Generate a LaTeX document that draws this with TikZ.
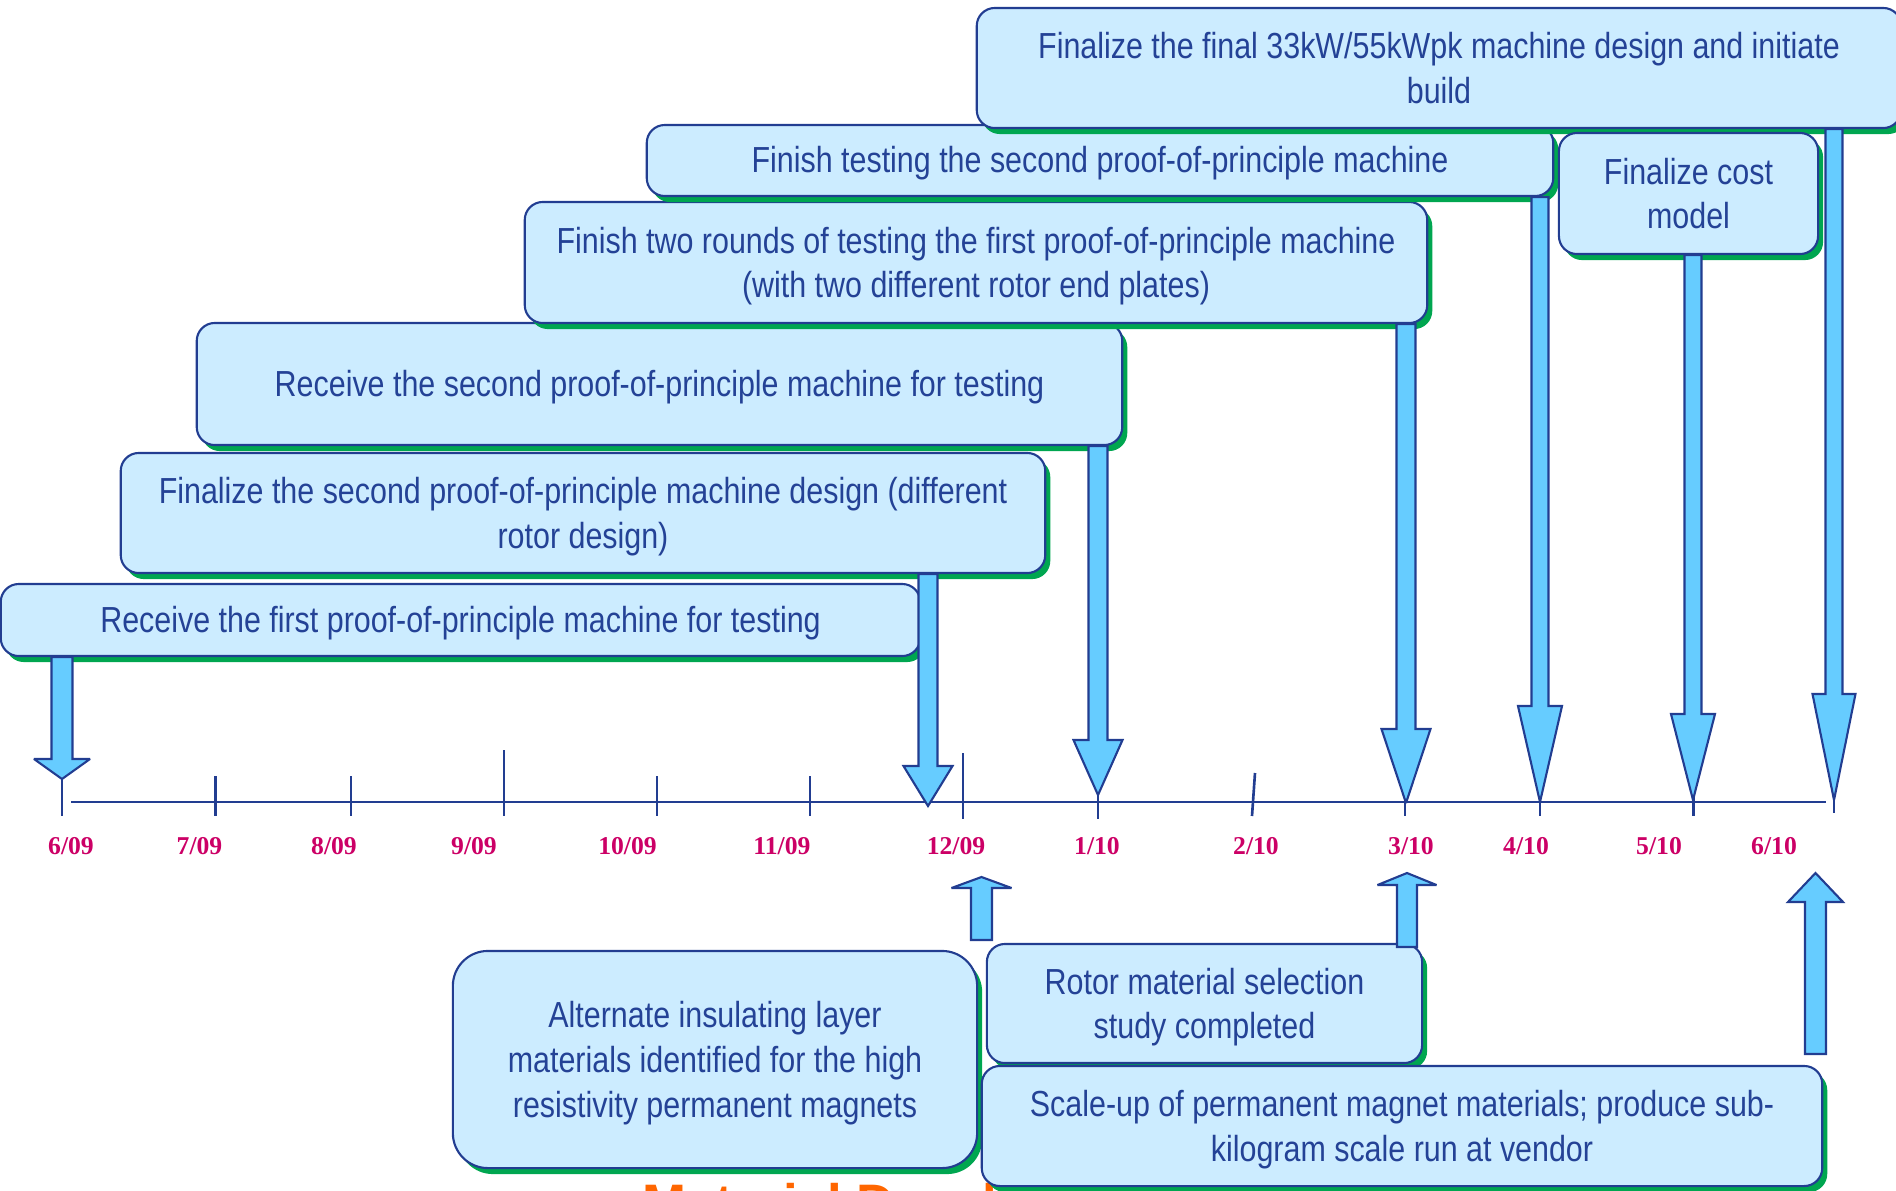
\documentclass[tikz,border=0pt]{standalone}
\usepackage{fontspec}
\setmainfont{Liberation Sans}[FakeStretch=0.84]
\newfontfamily\datefont{Liberation Serif}
\newfontfamily\titlefont{Liberation Sans}
\usepackage{tikz}
\usetikzlibrary{shapes,shadows,calc}

\definecolor{boxfill}{RGB}{204,236,255}
\definecolor{boxline}{RGB}{34,61,145}
\definecolor{boxtext}{RGB}{36,66,150}
\definecolor{shadowgreen}{RGB}{0,166,80}
\definecolor{arrowfill}{RGB}{102,204,255}
\definecolor{datemagenta}{RGB}{204,0,102}
\definecolor{titleorange}{RGB}{255,102,0}

\tikzset{
  msbox/.style={shape=rectangle,rounded corners=0.18cm,draw=boxline,fill=boxfill,line width=0.6pt,text=boxtext,align=center,inner sep=0pt,font=\fontsize{10.3}{12.7}\selectfont,execute at begin node={\rule{0pt}{9.2pt}},drop shadow={shadow xshift=0.05cm,shadow yshift=-0.06cm,fill=shadowgreen,opacity=1}},
  lowtext/.style={text depth=0pt},
  fatarrow/.style={draw=boxline,fill=arrowfill,line width=0.6pt,line join=miter,miter limit=3},
  axisline/.style={draw=boxline,line width=0.75pt},
  datelabel/.style={text=datemagenta,inner sep=0pt,font=\datefont\bfseries\fontsize{7.3}{9}\selectfont}
}

\newcommand{\blockarrow}[5]{%
  \path[fatarrow] let \p1=#1, \p2=#2, \p3=($#2!#5!#1$) in
    (\x1-#3,\y1) -- (\x1-#3,\y3) -- (\x1-#4,\y3) -- (\x2,\y2) -- (\x1+#4,\y3) -- (\x1+#3,\y3) -- (\x1+#3,\y1) -- cycle;}

\begin{document}
\begin{tikzpicture}[x=0.01cm,y=-0.01cm]
\useasboundingbox (0,0) rectangle (1896,1190);

\draw[axisline] (71,802) -- (1826,802);
\draw[axisline] (62,778) -- (62,816);
\draw[axisline] (215.5,776) -- (215.5,816);
\draw[axisline] (351,776) -- (351,816);
\draw[axisline] (504,750) -- (504,816);
\draw[axisline] (657,776) -- (657,816);
\draw[axisline] (810,776) -- (810,816);
\draw[axisline] (963,753) -- (963,819);
\draw[axisline] (1098,776) -- (1098,819);
\draw[axisline] (1255,773) -- (1252,816);
\draw[axisline] (1405,776) -- (1405,816);
\draw[axisline] (1540,776) -- (1540,816);
\draw[axisline] (1693.5,776) -- (1693.5,816);
\draw[axisline] (1834,776) -- (1834,813);

\node[datelabel] (d609) at (71,846) {6/09};
\node[datelabel] (d709) at (199.5,846) {7/09};
\node[datelabel] (d809) at (334,846) {8/09};
\node[datelabel] (d909) at (474,846) {9/09};
\node[datelabel] (d1009) at (627.5,846) {10/09};
\node[datelabel] (d1109) at (782,846) {11/09};
\node[datelabel] (d1209) at (956,846) {12/09};
\node[datelabel] (d110) at (1097,846) {1/10};
\node[datelabel] (d210) at (1256,846) {2/10};
\node[datelabel] (d310) at (1411,846) {3/10};
\node[datelabel] (d410) at (1526,846) {4/10};
\node[datelabel] (d510) at (1659,846) {5/10};
\node[datelabel] (d610) at (1774,846) {6/10};

\node[msbox,minimum width=9.19cm,minimum height=0.72cm] (b6) at (460.5,620) {Receive the first proof-of-principle machine for testing};
\node[msbox,lowtext,minimum width=9.24cm,minimum height=1.2cm] (b5) at (583,513) {Finalize the second proof-of-principle machine design (different\\rotor design)};
\node[msbox,minimum width=9.25cm,minimum height=1.22cm] (b4) at (659.5,384) {Receive the second proof-of-principle machine for testing};
\node[msbox,lowtext,minimum width=9.02cm,minimum height=1.21cm] (b3) at (976,262.5) {Finish two rounds of testing the first proof-of-principle machine\\(with two different rotor end plates)};
\node[msbox,minimum width=9.06cm,minimum height=0.71cm] (b2) at (1100,160.5) {Finish testing the second proof-of-principle machine};
\node[msbox,minimum width=9.24cm,minimum height=1.2cm] (b1) at (1439,68) {Finalize the final 33kW/55kWpk machine design and initiate\\build};
\node[msbox,minimum width=2.59cm,minimum height=1.21cm] (b7) at (1688.5,193.5) {Finalize cost\\model};

\node[anchor=base west,inner sep=0pt,text=titleorange,font=\titlefont\bfseries\fontsize{15}{18}\selectfont] (title) at (642,1221) {Material Development};

\node[msbox,lowtext,rounded corners=0.35cm,minimum width=5.24cm,minimum height=2.17cm] (b8) at (715,1059.5) {Alternate insulating layer\\materials identified for the high\\resistivity permanent magnets};
\node[msbox,lowtext,minimum width=4.35cm,minimum height=1.19cm] (b9) at (1204.5,1003.5) {Rotor material selection\\study completed};
\node[msbox,lowtext,minimum width=8.4cm,minimum height=1.2cm] (b10) at (1402,1126) {Scale-up of permanent magnet materials; produce sub-\\kilogram scale run at vendor};

\coordinate (m1) at (62,779);
\coordinate (m2) at (928,806);
\coordinate (m3) at (1098,795);
\coordinate (m4) at (1406,803);
\coordinate (m5) at (1540,802);
\coordinate (m6) at (1693,800);
\coordinate (m7) at (1834,800);
\coordinate (u1) at (981.5,877);
\coordinate (u2) at (1407,873);
\coordinate (u3) at (1815.5,873);
\coordinate (s1) at (981.5,940);
\coordinate (s2) at (1407,947);
\coordinate (s3) at (1815.5,1054);

\blockarrow{(b6.south -| m1)}{(m1)}{0.105cm}{0.28cm}{0.2cm}
\blockarrow{(b5.south -| m2)}{(m2)}{0.095cm}{0.245cm}{0.4cm}
\blockarrow{(b4.south -| m3)}{(m3)}{0.095cm}{0.245cm}{0.55cm}
\blockarrow{(b3.south -| m4)}{(m4)}{0.095cm}{0.245cm}{0.74cm}
\blockarrow{(b2.south -| m5)}{(m5)}{0.085cm}{0.22cm}{0.96cm}
\blockarrow{(b7.south -| m6)}{(m6)}{0.085cm}{0.22cm}{0.86cm}
\blockarrow{(b1.south -| m7)}{(m7)}{0.085cm}{0.215cm}{1.06cm}
\blockarrow{(s1)}{(u1)}{0.105cm}{0.3cm}{0.11cm}
\blockarrow{(s2)}{(u2)}{0.1cm}{0.295cm}{0.12cm}
\blockarrow{(s3)}{(u3)}{0.105cm}{0.275cm}{0.29cm}
\end{tikzpicture}
\end{document}
